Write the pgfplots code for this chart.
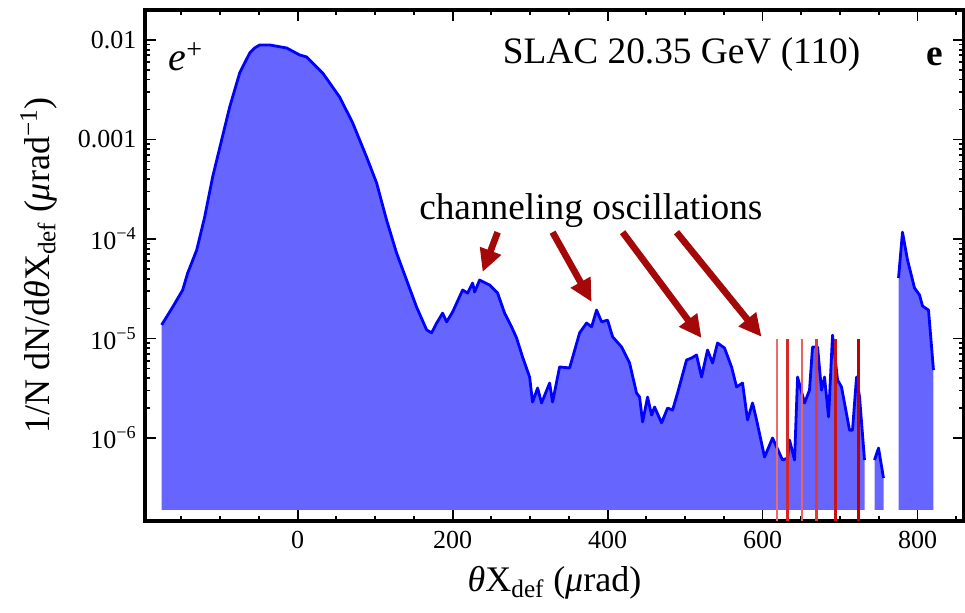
\documentclass[border=0pt]{standalone}
\usepackage{fontspec}
\setmainfont{Liberation Serif}
\usepackage{pgfplots}
\pgfplotsset{compat=1.18}
\usepackage{pgfplotstable}
\usetikzlibrary{arrows.meta}
\definecolor{areablue}{RGB}{102,102,255}
\definecolor{arrowred}{RGB}{165,8,8}
\definecolor{redA}{RGB}{230,110,110}
\definecolor{redB}{RGB}{215,40,40}
\definecolor{redC}{RGB}{230,100,100}
\definecolor{redD}{RGB}{220,60,60}
\definecolor{redE}{RGB}{200,20,20}
\definecolor{redF}{RGB}{190,0,0}

% first two rows: baseline corners for the filled area
\pgfplotstableread{
x y
731.6 1.9e-7
-175.5 1.9e-7
-175.5 1.37e-5
-161.3 2.07e-5
-148.4 3.07e-5
-141.9 4.55e-5
-130.3 7.74e-5
-120.0 1.66e-4
-109.7 4.20e-4
-98.1 9.89e-4
-87.7 2.12e-3
-74.8 4.66e-3
-61.9 7.39e-3
-55.5 8.31e-3
-49.0 8.91e-3
-36.1 8.91e-3
-14.2 8.31e-3
2.6 7.07e-3
11.6 6.75e-3
32.3 4.66e-3
54.2 2.67e-3
71.0 1.47e-3
89.0 6.67e-4
101.9 3.66e-4
114.8 1.55e-4
127.7 7.23e-5
140.6 3.87e-5
153.5 2.07e-5
166.5 1.22e-5
172.9 1.14e-5
179.4 1.43e-5
187.1 1.80e-5
192.3 1.47e-5
200.0 1.85e-5
212.9 3.07e-5
219.4 2.86e-5
225.8 3.61e-5
228.4 2.93e-5
234.8 3.87e-5
247.7 3.45e-5
258.1 2.86e-5
267.1 1.80e-5
276.1 1.31e-5
282.6 1.01e-5
290.3 6.52e-6
299.4 4.10e-6
303.2 2.30e-6
309.7 3.18e-6
314.8 2.25e-6
325.2 3.57e-6
329.0 2.30e-6
338.1 5.18e-6
351.0 5.06e-6
363.9 1.14e-5
372.9 1.43e-5
379.4 1.31e-5
385.8 1.93e-5
392.3 1.47e-5
400.0 1.53e-5
406.5 1.04e-5
418.1 8.22e-6
428.4 5.67e-6
437.4 2.83e-6
441.3 2.58e-6
445.2 1.45e-6
451.6 2.58e-6
456.8 1.70e-6
460.6 2.05e-6
469.7 1.42e-6
477.4 2.00e-6
483.9 1.91e-6
490.3 2.83e-6
501.9 6.08e-6
508.4 6.37e-6
514.8 6.83e-6
521.3 4.10e-6
529.0 7.66e-6
535.5 5.67e-6
541.9 9.02e-6
550.9 8.03e-6
560.0 5.18e-6
566.5 3.26e-6
574.2 3.57e-6
580.6 1.52e-6
587.1 2.25e-6
592.3 1.52e-6
602.6 6.44e-7
612.9 1.00e-6
625.8 6.01e-7
632.3 6.29e-7
634.8 9.54e-7
641.3 6.01e-7
645.2 4.10e-6
654.2 2.25e-6
660.6 3.03e-6
664.5 8.22e-6
671.0 8.22e-6
676.1 3.03e-6
680.0 4.10e-6
685.2 1.63e-6
690.3 1.08e-5
696.8 3.83e-6
701.9 3.26e-6
712.3 1.20e-6
716.1 1.20e-6
721.3 4.10e-6
725.2 2.58e-6
731.6 6.01e-7
}\segA

\pgfplotstableread{
x y
756.1 1.9e-7
744.5 1.9e-7
744.5 6.01e-7
749.7 7.93e-7
756.1 3.96e-7
}\segB

\pgfplotstableread{
x y
820.6 1.9e-7
775.5 1.9e-7
775.5 4.06e-5
780.6 1.17e-4
787.1 6.15e-5
796.1 3.22e-5
802.6 2.74e-5
806.5 2.12e-5
814.2 1.93e-5
820.6 4.82e-6
}\segC

\begin{document}
\begin{tikzpicture}
\useasboundingbox (-108.75pt,-68.25pt) rectangle (615pt,390.75pt);
\begin{axis}[
  at={(0pt,0pt)}, anchor=south west,
  scale only axis, width=614.25pt, height=383.25pt,
  ymode=log,
  xmin=-197, xmax=860, ymin=1.466e-7, ymax=0.02,
  axis line style={line width=2.8pt},
  tick style={line width=1.4pt, black},
  major tick length=8pt, minor tick length=4pt,
  tick align=inside,
  xtick={0,200,400,600,800},
  xticklabels={0,200,400,600,800},
  minor xtick={-150,-100,-50,50,100,150,250,300,350,450,500,550,650,700,750,850},
  ytick={1e-6,1e-5,1e-4,1e-3,1e-2},
  yticklabels={10\textsuperscript{−6},10\textsuperscript{−5},10\textsuperscript{−4},0.001,0.01},
  ticklabel style={font=\fontsize{19.5}{22}\selectfont},
  xticklabel style={yshift=-4pt},
  yticklabel style={xshift=-3pt},
  xlabel={\textit{θ}X\textsubscript{def} (\textit{μ}rad)},
  ylabel={1/N dN/d\textit{θ}X\textsubscript{def} (\textit{μ}rad\textsuperscript{−1})},
  label style={font=\fontsize{27}{30}\selectfont},
  xlabel style={at={(axis description cs:0.5,-0.12)}, anchor=center},
  ylabel style={at={(axis description cs:-0.13,0.5)}, anchor=center},
]
\addplot[fill=areablue, draw=none] table {\segA};
\addplot[fill=areablue, draw=none] table {\segB};
\addplot[fill=areablue, draw=none] table {\segC};
\addplot[blue, line width=2.1pt, line join=round, restrict expr to domain={\coordindex}{2:1000}] table {\segA};
\addplot[blue, line width=2.1pt, line join=round, restrict expr to domain={\coordindex}{2:1000}] table {\segB};
\addplot[blue, line width=2.1pt, line join=round, restrict expr to domain={\coordindex}{2:1000}] table {\segC};

\addplot[redA, line width=1.5pt] coordinates {(618.1,1.466e-7) (618.1,1e-5)};
\addplot[redB, line width=1.8pt] coordinates {(632.3,1.466e-7) (632.3,1e-5)};
\addplot[redC, line width=1.5pt] coordinates {(650.3,1.466e-7) (650.3,1e-5)};
\addplot[redD, line width=1.8pt] coordinates {(669.7,1.466e-7) (669.7,1e-5)};
\addplot[redE, line width=2.2pt] coordinates {(694.2,1.466e-7) (694.2,1e-5)};
\addplot[redF, line width=2.8pt] coordinates {(723.9,1.466e-7) (723.9,1e-5)};

\draw[arrowred, line width=5pt, -{Triangle[length=17pt,width=16pt]}] (axis cs:258.1,1.17e-4) -- (axis cs:238.7,4.66e-5);
\draw[arrowred, line width=5pt, -{Triangle[length=17pt,width=16pt]}] (axis cs:329.0,1.17e-4) -- (axis cs:379.4,2.33e-5);
\draw[arrowred, line width=5pt, -{Triangle[length=17pt,width=16pt]}] (axis cs:419.4,1.17e-4) -- (axis cs:521.3,1.01e-5);
\draw[arrowred, line width=5pt, -{Triangle[length=17pt,width=16pt]}] (axis cs:489.0,1.17e-4) -- (axis cs:598.7,1.04e-5);

\node[font=\fontsize{28}{30}\selectfont] at (axis cs:378.4,1.95e-4) {channeling oscillations};
\node[font=\fontsize{28}{30}\selectfont] at (axis cs:495.5,7.07e-3) {SLAC 20.35 GeV (110)};
\node[font=\fontsize{30}{32}\selectfont] at (axis cs:-144.5,6.75e-3) {\textit{e}\textsuperscript{+}};
\node[font=\fontsize{28}{30}\selectfont\bfseries] at (axis cs:822,6.76e-3) {e};
\end{axis}
\end{tikzpicture}
\end{document}
